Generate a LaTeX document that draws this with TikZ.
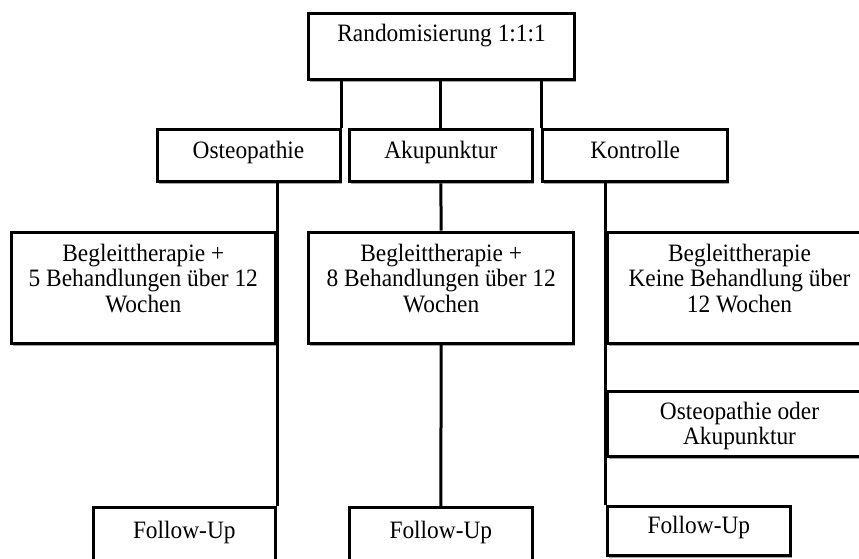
\documentclass[tikz,border=0pt]{standalone}
\usepackage{fontspec}
\setmainfont{Liberation Serif}[FakeStretch=0.935]
\usetikzlibrary{shadows,calc}
\begin{document}
\begin{tikzpicture}[x=1pt,y=-1pt,
  box/.style={draw=black, line width=3pt, fill=white, inner sep=0pt,
    drop shadow={shadow xshift=1.5pt, shadow yshift=-2.5pt, fill=black, opacity=0.35}},
  txt/.style={inner sep=0pt, anchor=north, align=center, text height=17pt,
    font=\fontsize{25}{25.5}\selectfont},
  conn/.style={draw=black, line width=3pt}]
\useasboundingbox (0,0) rectangle (859,558);
\clip (0,0) rectangle (859,558);
\fill[white] (0,0) rectangle (859,558);
% boxes
\node[box, minimum width=266pt, minimum height=66pt] (rand) at (441.6,46.3) {};
\node[box, minimum width=183pt, minimum height=52pt] (osteo) at (248.5,155.8) {};
\node[box, minimum width=183pt, minimum height=52pt] (aku) at (440.8,155.8) {};
\node[box, minimum width=185pt, minimum height=52pt] (kontr) at (635.1,155.8) {};
\node[box, minimum width=264.6pt, minimum height=111pt] (beg1) at (143.3,287.5) {};
\node[box, minimum width=265.5pt, minimum height=111pt] (beg2) at (441.2,287.5) {};
\node[box, minimum width=265pt, minimum height=111pt] (beg3) at (739.5,287.5) {};
\node[box, minimum width=265pt, minimum height=64.3pt] (oder) at (739.5,423.85) {};
\node[box, minimum width=182.6pt, minimum height=60pt] (fu1) at (184.3,537.7) {};
\node[box, minimum width=183.6pt, minimum height=60pt] (fu2) at (440.8,537.7) {};
\node[box, minimum width=183.7pt, minimum height=49pt] (fu3) at (698.85,530.5) {};
% connectors
\draw[conn] (rand.south -| osteo.north east) -- (osteo.north east);
\draw[conn] (rand.south -| aku.north) -- (aku.north);
\draw[conn] (rand.south -| kontr.north west) -- (kontr.north west);
\draw[conn] (osteo.south -| beg1.east) -- (fu1.north east);
\draw[conn] (aku.south) -- (beg2.north);
\draw[conn] (beg2.south) -- (fu2.north);
\draw[conn] (kontr.south -| beg3.west) -- (fu3.north west);
% texts
\node[txt] (trand) at ($(rand.north)+(0,12.3)$) {Randomisierung 1:1:1};
\node[txt] (tosteo) at ($(osteo.north)+(0,13.3)$) {Osteopathie};
\node[txt] (taku) at ($(aku.north)+(0,13.3)$) {Akupunktur};
\node[txt] (tkontr) at ($(kontr.north)+(0,13.3)$) {Kontrolle};
\node[txt] (tbeg1) at ($(beg1.north)+(0,64.7)$) {Begleittherapie +\\5 Behandlungen über 12\\Wochen};
\node[txt] (tbeg2) at ($(beg2.north)+(0,64.7)$) {Begleittherapie +\\8 Behandlungen über 12\\Wochen};
\node[txt] (tbeg3) at ($(beg3.north)+(0,64.7)$) {Begleittherapie\\Keine Behandlung über\\12 Wochen};
\node[txt] (toder) at ($(oder.north)+(0,37.5)$) {Osteopathie oder\\Akupunktur};
\node[txt] (tfu1) at ($(fu1.north)+(0,15.3)$) {Follow-Up};
\node[txt] (tfu2) at ($(fu2.north)+(0,15.3)$) {Follow-Up};
\node[txt] (tfu3) at ($(fu3.north)+(0,12)$) {Follow-Up};
\end{tikzpicture}
\end{document}
